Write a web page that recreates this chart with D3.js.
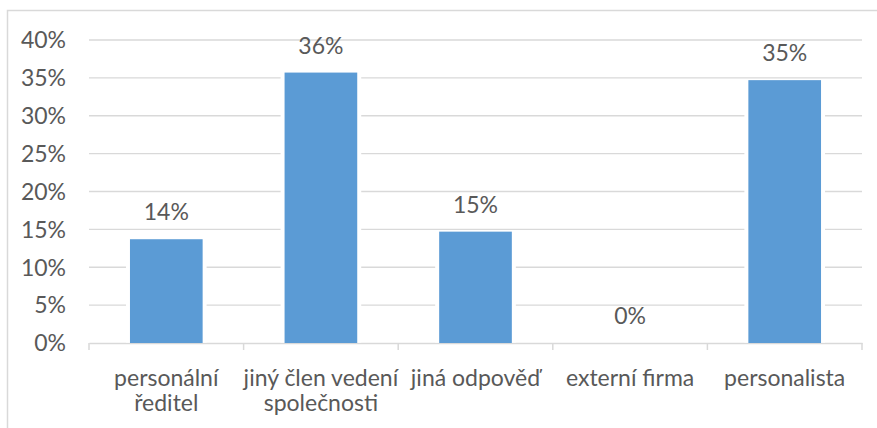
<!DOCTYPE html>
<html>
<head>
<meta charset="utf-8">
<script src="https://cdn.jsdelivr.net/npm/d3@7"></script>
<style>
  body { margin: 0; background: #fff; }
  svg { display: block; font-family: Lato, "Open Sans", sans-serif; }
</style>
</head>
<body>
<svg id="chart"></svg>
<script>
// data
const categories = ['personální ředitel', 'jiný člen vedení společnosti', 'jiná odpověď', 'externí firma', 'personalista'];
const categoryLines = [['personální', 'ředitel'], ['jiný člen vedení', 'společnosti'], ['jiná odpověď'], ['externí firma'], ['personalista']];
const values = [13.7, 35.7, 14.7, 0, 34.7];
const valueLabels = ['14%', '36%', '15%', '0%', '35%'];
const yTicks = [0, 5, 10, 15, 20, 25, 30, 35, 40];

const width = 877, height = 428;
const margin = { top: 40, right: 15, bottom: 85, left: 89 };
const fontSize = 23;

const svg = d3.select('#chart')
  .attr('width', width)
  .attr('height', height);

// chart area border (right and bottom edges fall outside the picture)
svg.append('rect')
  .attr('x', 7.5).attr('y', 10.5)
  .attr('width', width + 20).attr('height', height + 20)
  .attr('fill', 'none')
  .attr('stroke', '#d9d9d9')
  .attr('stroke-width', 1.5);

const x = d3.scaleBand()
  .domain(categories)
  .range([margin.left, width - margin.right])
  .paddingInner(0.53)
  .paddingOuter(0.265);

const y = d3.scaleLinear()
  .domain([0, 40])
  .range([height - margin.bottom, margin.top]);

const textColor = '#595959';

// gridlines
svg.append('g')
  .selectAll('line')
  .data(yTicks.filter(d => d > 0))
  .join('line')
  .attr('x1', margin.left).attr('x2', width - margin.right)
  .attr('y1', d => y(d)).attr('y2', d => y(d))
  .attr('stroke', '#d9d9d9')
  .attr('stroke-width', 1.3);

// y tick labels
svg.append('g')
  .selectAll('text')
  .data(yTicks)
  .join('text')
  .attr('x', 66)
  .attr('y', d => y(d))
  .attr('dy', '0.36em')
  .attr('text-anchor', 'end')
  .attr('fill', textColor)
  .attr('font-size', fontSize)
  .text(d => d + '%');

// x axis line and category ticks
const xAxis = d3.axisBottom(x).tickSize(0).tickFormat('');
const gx = svg.append('g')
  .attr('transform', `translate(0,${y(0)})`)
  .call(xAxis);
gx.select('.domain').attr('stroke', '#d9d9d9').attr('stroke-width', 1.5);

const step = x.step();
const bounds = d3.range(categories.length + 1).map(i => margin.left + i * step);
gx.selectAll('.sep')
  .data(bounds)
  .join('line')
  .attr('class', 'sep')
  .attr('x1', d => d).attr('x2', d => d)
  .attr('y1', 0).attr('y2', 7)
  .attr('stroke', '#d9d9d9')
  .attr('stroke-width', 1.5);

// white halo round bars (gridlines break at bar edges)
const bars = categories.map((c, i) => ({ c, v: values[i], label: valueLabels[i], lines: categoryLines[i] }));

svg.append('g')
  .selectAll('rect')
  .data(bars.filter(d => d.v > 0))
  .join('rect')
  .attr('x', d => x(d.c) - 4)
  .attr('y', d => y(d.v) - 1)
  .attr('width', x.bandwidth() + 8)
  .attr('height', d => y(0) - y(d.v) + 0.5)
  .attr('fill', '#fff');

svg.append('g')
  .selectAll('rect')
  .data(bars)
  .join('rect')
  .attr('x', d => x(d.c))
  .attr('y', d => y(d.v))
  .attr('width', x.bandwidth())
  .attr('height', d => y(0) - y(d.v))
  .attr('fill', '#5b9bd5');

// value labels
svg.append('g')
  .selectAll('text')
  .data(bars)
  .join('text')
  .attr('x', d => x(d.c) + x.bandwidth() / 2)
  .attr('y', d => y(d.v) - 19)
  .attr('text-anchor', 'middle')
  .attr('fill', textColor)
  .attr('font-size', fontSize)
  .text(d => d.label);

// category labels
const cat = svg.append('g')
  .selectAll('text')
  .data(bars)
  .join('text')
  .attr('x', d => x(d.c) + x.bandwidth() / 2)
  .attr('y', 386)
  .attr('text-anchor', 'middle')
  .attr('fill', textColor)
  .attr('font-size', fontSize);

cat.selectAll('tspan')
  .data(d => d.lines.map(l => ({ l, cx: x(d.c) + x.bandwidth() / 2 })))
  .join('tspan')
  .attr('x', d => d.cx)
  .attr('dy', (d, i) => i === 0 ? 0 : 25)
  .text(d => d.l);
</script>
</body>
</html>
